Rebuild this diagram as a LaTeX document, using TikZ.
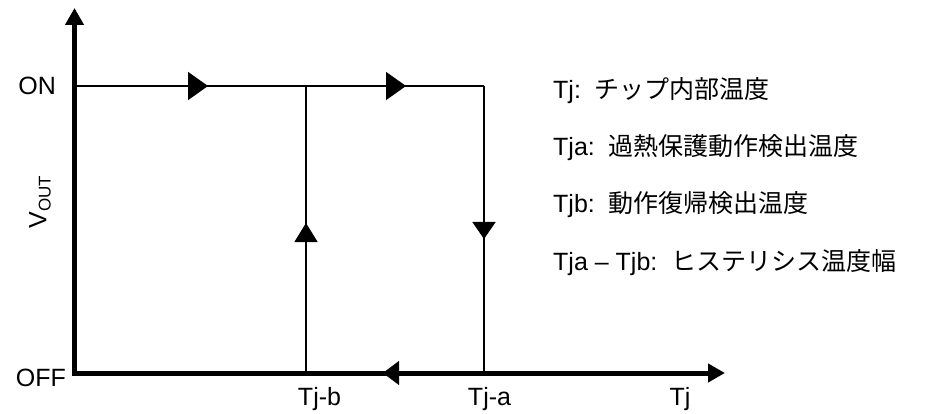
\documentclass[tikz,border=0pt]{standalone}
\usepackage{fontspec}
\setmainfont{Liberation Sans}
\newfontfamily\jp{Noto Sans CJK JP}
\usetikzlibrary{arrows.meta,decorations.markings}
\begin{document}
\begin{tikzpicture}[x=1pt,y=-1pt,
  lbl/.style={inner sep=0pt,font=\fontsize{25}{30}\selectfont},
  axisline/.style={line width=5pt,line join=miter},
  thin/.style={line width=1.6pt},
  fwdmark/.style 2 args={postaction={decorate},decoration={markings,mark=at position #1 with {\arrow{Triangle[length=#2pt,width=28pt]}}}},
]
\useasboundingbox (0,0) rectangle (942,414);
% coordinates
\coordinate (ytop) at (74.5,8);
\coordinate (orig) at (74.5,373);
\coordinate (xend) at (725,373);
\coordinate (on0) at (77,86);
\coordinate (onb) at (306,86);
\coordinate (ona) at (484,86);
\coordinate (offb) at (306,373);
\coordinate (offa) at (484,373);
% axes
\draw[axisline,{Triangle[length=17pt,width=18pt]}-{Triangle[length=17pt,width=18pt]}] (ytop) -- (orig) -- (xend);
% ON line with arrows
\draw[thin,postaction={decorate},decoration={markings,
   mark=at position 131pt with {\arrow{Triangle[length=20pt,width=28pt]}},
   mark=at position 329pt with {\arrow{Triangle[length=20pt,width=28pt]}}}] (on0) -- (ona);
% Tj-b rise
\draw[thin,postaction={decorate},decoration={markings,
   mark=at position 150pt with {\arrow{Triangle[length=19pt,width=23pt]}}}] (offb) -- (onb);
% Tj-a fall
\draw[thin,postaction={decorate},decoration={markings,
   mark=at position 153pt with {\arrow{Triangle[length=17pt,width=23pt]}}}] (ona) -- (offa);
% left arrow on axis
\path[postaction={decorate},decoration={markings,
   mark=at position 101pt with {\arrow{Triangle[length=16pt,width=24pt]}}}] (offa) -- (offb);
% labels
\node[lbl,anchor=east] (lon) at (56,86) {ON};
\node[lbl,anchor=east] (loff) at (66,378) {OFF};
\node[lbl,rotate=90] (lvout) at (40,202) {V{\fontsize{17}{20}\selectfont\raisebox{-0.25em}{OUT}}};
\node[lbl,anchor=base] (ltjb) at (319.5,405) {Tj-b};
\node[lbl,anchor=base] (ltja) at (489.5,405) {Tj-a};
\node[lbl,anchor=base] (ltj) at (680,405) {Tj};
% legend
\node[lbl,anchor=base west] (leg1) at (553,99) {Tj:\ \ {\jp チップ内部温度}};
\node[lbl,anchor=base west] (leg2) at (553,156) {Tja:\ \ {\jp 過熱保護動作検出温度}};
\node[lbl,anchor=base west] (leg3) at (553,213) {Tjb:\ \ {\jp 動作復帰検出温度}};
\node[lbl,anchor=base west] (leg4) at (553,270) {Tja – Tjb:\ \ {\jp ヒステリシス温度幅}};
\end{tikzpicture}
\end{document}
